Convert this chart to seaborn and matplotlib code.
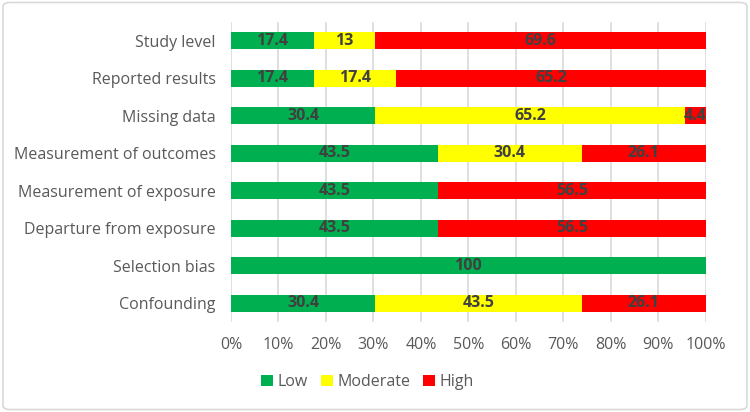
import matplotlib
matplotlib.use("Agg")
import matplotlib.pyplot as plt
import seaborn as sns
import pandas as pd
import numpy as np
from matplotlib.patches import FancyBboxPatch, Patch

categories = ["Study level", "Reported results", "Missing data", "Measurement of outcomes",
              "Measurement of exposure", "Departure from exposure", "Selection bias", "Confounding"]
low = [17.4, 17.4, 30.4, 43.5, 43.5, 43.5, 100, 30.4]
moderate = [13, 17.4, 65.2, 30.4, 0, 0, 0, 43.5]
high = [69.6, 65.2, 4.4, 26.1, 56.5, 56.5, 0, 26.1]
series_names = ["Low", "Moderate", "High"]
colors = ["#00B050", "#FFFF00", "#FF0000"]
xticks = [0, 10, 20, 30, 40, 50, 60, 70, 80, 90, 100]

sns.set_theme(style="white")
plt.rcParams["font.family"] = ["Open Sans", "DejaVu Sans"]

df = pd.DataFrame({"cat": categories, "Low": low, "Moderate": moderate, "High": high})
df["c1"] = df["Low"]
df["c2"] = df["Low"] + df["Moderate"]
df["c3"] = df["Low"] + df["Moderate"] + df["High"]

fig = plt.figure(figsize=(7.5, 4.12), dpi=100)
ax = fig.add_axes([0.308, 0.2184, 0.633, 0.7282])

for col, color in zip(["c3", "c2", "c1"], colors[::-1]):
    sns.barplot(data=df, x=col, y="cat", orient="h", color=color, width=0.45,
                saturation=1, ax=ax, order=categories, linewidth=0)

# data labels
for i, cat in enumerate(categories):
    start = 0
    for v in (low[i], moderate[i], high[i]):
        if v > 0:
            ax.text(start + v / 2, i, f"{v:g}", ha="center", va="center",
                    fontsize=11.5, fontweight="bold", color="#404040")
        start += v

ax.set_xlim(0, 100)
ax.set_ylim(7.5, -0.5)
ax.set_xticks(xticks)
ax.set_xticklabels([f"{t}%" for t in xticks])
ax.set_xlabel("")
ax.set_ylabel("")
ax.grid(axis="x", color="#D9D9D9", linewidth=1.2)
ax.set_axisbelow(True)
for s in ax.spines.values():
    s.set_visible(False)
ax.tick_params(axis="x", length=0, pad=11, labelsize=11.5, labelcolor="#595959")
ax.tick_params(axis="y", length=0, pad=11, labelsize=11.5, labelcolor="#595959")

handles = [Patch(facecolor=c, edgecolor="none") for c in colors]
fig.legend(handles, series_names, loc="center", bbox_to_anchor=(0.49, 0.073), ncol=3,
           frameon=False, fontsize=11.5, handlelength=0.75, handleheight=0.75,
           handletextpad=0.3, columnspacing=0.8, labelcolor="#595959")

border = FancyBboxPatch((0.004, 0.006), 0.992, 0.988, boxstyle="round,pad=0,rounding_size=0.01",
                        transform=fig.transFigure, facecolor="none", edgecolor="#D9D9D9",
                        linewidth=1.2)
fig.patches.append(border)

fig.savefig("out.png", dpi=100)
